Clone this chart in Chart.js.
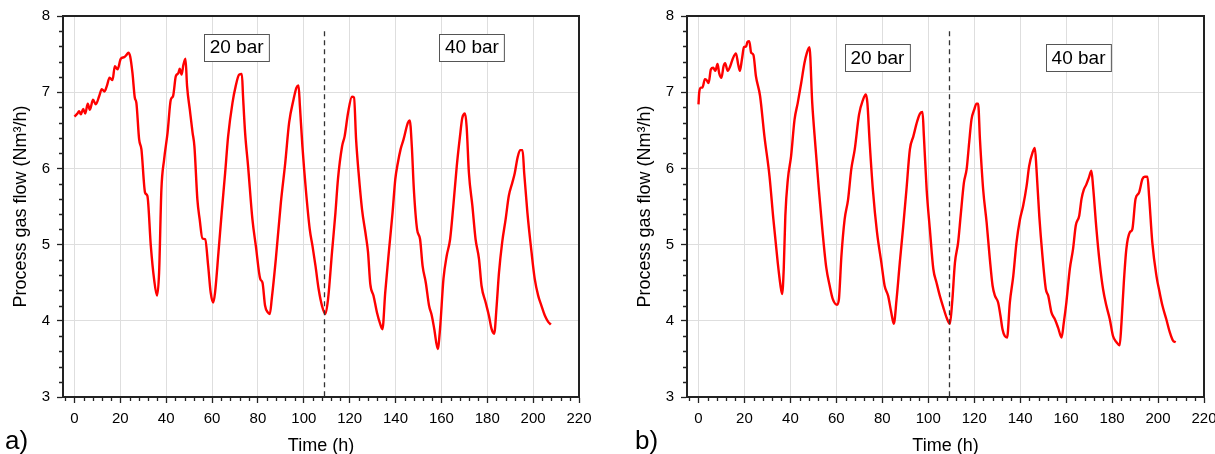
<!DOCTYPE html>
<html>
<head>
<meta charset="utf-8">
<script src="https://cdn.jsdelivr.net/npm/chart.js@4"></script>
<style>
  html, body { margin: 0; padding: 0; background: #fff; overflow: hidden; }
  #wrap { position: relative; width: 1215px; height: 454px; }
  #chart-a { position: absolute; left: 0; top: 0; }
  #chart-b { position: absolute; left: 610px; top: 0; }
</style>
</head>
<body>
<div id="wrap">
  <canvas id="chart-a" width="610" height="454"></canvas>
  <canvas id="chart-b" width="620" height="454"></canvas>
</div>
<script>
// panel a) time (h) and process gas flow (Nm3/h)
const timeA = [
  0, 1.3, 2.0, 2.8, 3.8, 4.7, 5.8, 6.7, 8.1, 9.3, 10.8, 11.9, 13.1, 14.1, 15.3, 16.6, 17.6, 18.8,
  20.2, 21.7, 22.7, 23.5, 24.3, 25.3, 26.3, 27.0, 28.2, 29.2, 30.8, 31.8, 33.3, 34.7, 36.0, 36.9,
  37.9, 39.1, 40.6, 42.0, 43.0, 44.2, 45.3, 45.9, 46.7, 47.5, 48.4, 49.1, 50.3, 51.5, 52.3, 53.6,
  54.6, 55.8, 57.0, 58.3, 59.4, 60.5, 61.3, 62.8, 64.2, 65.7, 67.0, 68.9, 70.3, 71.8, 73.0, 73.5,
  74.4, 75.7, 77.6, 79.1, 81.0, 82.0, 83.1, 84.3, 85.2, 86.0, 87.8, 90.0, 91.9, 93.6, 95.5, 96.8,
  97.7, 98.3, 99.4, 100.9, 102.6, 103.8, 105.1, 106.5, 108.0, 109.4, 110.6, 112.3, 113.8, 114.9,
  116.7, 117.8, 119.3, 121.0, 121.9, 122.8, 123.9, 125.4, 127.1, 128.0, 129.0, 130.4, 131.9, 133.3,
  134.3, 135.5, 137.2, 138.7, 139.9, 141.0, 142.2, 143.5, 145.4, 146.2, 147.1, 148.0, 149.4, 150.7,
  151.8, 153.2, 154.6, 155.8, 156.9, 158.4, 159.4, 160.9, 162.3, 163.8, 165.2, 166.7, 168.1, 169.1,
  170.3, 171.0, 172.0, 173.5, 174.9, 176.4, 177.5, 179.3, 180.7, 181.9, 183.0, 184.1, 185.1, 186.5,
  188.0, 189.4, 190.9, 192.0, 193.2, 194.3, 195.4, 196.1, 197.5, 199.3, 200.7, 202.2, 203.6, 205.1,
  206.5, 207.7
];
const flowA = [
  6.68, 6.72, 6.75, 6.71, 6.78, 6.72, 6.85, 6.77, 6.90, 6.84, 6.95, 7.04, 7.01, 7.08, 7.19, 7.16, 7.34, 7.30,
  7.44, 7.46, 7.49, 7.52, 7.47, 7.25, 6.93, 6.86, 6.38, 6.25, 5.68, 5.64, 4.98, 4.55, 4.33, 4.63,
  5.72, 6.12, 6.47, 6.90, 6.95, 7.21, 7.25, 7.31, 7.23, 7.36, 7.44, 7.08, 6.77, 6.47, 6.29, 5.59,
  5.33, 5.08, 5.07, 4.72, 4.37, 4.24, 4.37, 4.90, 5.42, 5.94, 6.42, 6.86, 7.08, 7.23, 7.24, 6.95,
  6.47, 6.03, 5.33, 4.98, 4.55, 4.50, 4.20, 4.11, 4.09, 4.28, 4.81, 5.55, 6.07, 6.60, 6.90, 7.06,
  7.09, 6.82, 6.29, 5.72, 5.20, 4.98, 4.72, 4.41, 4.19, 4.09, 4.29, 4.90, 5.42, 5.86,
  6.29, 6.42, 6.73, 6.94, 6.93, 6.38, 5.94, 5.46, 5.11, 4.90, 4.48, 4.33, 4.11, 3.96,
  3.89, 4.37, 4.94, 5.42, 5.86, 6.07, 6.25, 6.38, 6.60, 6.63, 6.29, 5.72, 5.20, 5.07,
  4.72, 4.50, 4.20, 4.07, 3.89, 3.63, 3.89, 4.55, 4.85, 5.07, 5.51, 6.03, 6.42, 6.66,
  6.72, 6.55, 5.94, 5.51, 5.07, 4.81, 4.46, 4.24, 4.07, 3.89, 3.83, 4.20, 4.63, 5.03,
  5.33, 5.64, 5.81, 5.94, 6.14, 6.24, 6.24, 5.94, 5.42, 4.90, 4.55, 4.33, 4.20, 4.07,
  3.99, 3.95
];

// panel b)
const timeB = [
  0, 0.3, 1.0, 1.7, 2.8, 3.5, 4.4, 5.4, 6.4, 7.3, 8.3, 9.0, 10.0, 10.9, 11.6, 12.7, 13.8, 14.8,
  16.3, 17.3, 18.0, 18.9, 19.8, 20.7, 21.3, 22.1, 22.9, 23.9, 25.0, 26.8, 28.7, 30.9, 32.6, 34.5,
  35.7, 36.4, 37.1, 37.8, 38.9, 40.3, 41.8, 43.2, 44.7, 46.1, 47.2, 48.3, 49.5, 50.9, 52.4, 53.9,
  55.6, 57.1, 58.5, 60.3, 61.1, 62.2, 63.6, 65.1, 66.5, 68.0, 69.9, 71.6, 72.8, 73.5, 74.5, 75.9,
  77.7, 79.6, 81.0, 82.5, 83.9, 85.0, 86.2, 87.6, 89.1, 90.5, 92.0, 93.5, 95.2, 96.4, 97.5, 98.1,
  99.3, 100.7, 102.2, 103.6, 105.1, 106.5, 108.0, 109.4, 110.4, 111.6, 113.0, 114.1, 115.5, 116.7,
  117.8, 118.8, 120.0, 121.0, 121.7, 122.5, 123.9, 125.4, 126.8, 128.0, 129.0, 130.4, 131.4, 132.3,
  133.3, 134.3, 135.5, 137.0, 138.4, 139.9, 141.3, 142.8, 143.9, 145.4, 146.4, 147.1, 148.3, 149.7,
  151.2, 152.2, 153.6, 155.1, 156.5, 158.0, 159.0, 160.1, 161.6, 163.0, 164.2, 165.7, 166.7, 167.7,
  168.8, 169.9, 171.0, 171.7, 173.2, 174.6, 176.1, 177.5, 179.0, 180.4, 181.9, 183.3, 184.1, 185.1,
  186.2, 187.7, 188.8, 190.2, 191.7, 193.2, 194.2, 195.4, 196.1, 197.5, 199.3, 200.7, 201.9, 203.6,
  205.1, 206.5, 207.7
];
const flowB = [
  6.84, 6.99, 7.06, 7.06, 7.17, 7.16, 7.12, 7.30, 7.32, 7.28, 7.37, 7.25, 7.19, 7.34, 7.38, 7.28, 7.34, 7.43,
  7.51, 7.36, 7.28, 7.43, 7.59, 7.60, 7.66, 7.67, 7.52, 7.49, 7.21, 6.95, 6.42, 5.90, 5.33, 4.76,
  4.46, 4.35, 4.68, 5.38, 5.86, 6.16, 6.64, 6.86, 7.12, 7.38, 7.52, 7.59, 6.86, 6.29, 5.72, 5.20,
  4.70, 4.46, 4.28, 4.21, 4.28, 4.85, 5.33, 5.59, 5.99, 6.25, 6.71, 6.90, 6.97, 6.86, 6.34, 5.72,
  5.16, 4.76, 4.46, 4.33, 4.11, 3.96, 4.28, 4.76, 5.24, 5.72, 6.25, 6.42, 6.62, 6.72, 6.74, 6.42,
  5.72, 5.20, 4.68, 4.50, 4.32, 4.18, 4.04, 3.96, 4.24, 4.76, 5.03, 5.38, 5.81, 5.99,
  6.34, 6.64, 6.77, 6.85, 6.85, 6.38, 5.72, 5.29, 4.81, 4.46, 4.33, 4.24, 4.07, 3.89,
  3.80, 3.78, 4.24, 4.59, 5.03, 5.33, 5.51, 5.77, 6.03, 6.21, 6.27, 5.99, 5.38, 4.85,
  4.41, 4.33, 4.11, 4.02, 3.91, 3.78, 3.98, 4.24, 4.68, 4.94, 5.25, 5.38, 5.60, 5.72,
  5.79, 5.88, 5.97, 5.77, 5.20, 4.76, 4.41, 4.20, 4.02, 3.80, 3.72, 3.68, 3.98, 4.50,
  4.94, 5.16, 5.20, 5.60, 5.68, 5.86, 5.89, 5.89, 5.64, 5.03, 4.59, 4.37, 4.20, 4.02,
  3.85, 3.74, 3.72
];

const xTicks = [0, 20, 40, 60, 80, 100, 120, 140, 160, 180, 200, 220];
const yTicks = [3, 4, 5, 6, 7, 8];
const switchTime = 109;     // dashed line, 20 bar -> 40 bar
const switchTop = 7.8;
const labelsA = [{ text: "20 bar", x: 70.7, y: 7.59 }, { text: "40 bar", x: 173.3, y: 7.59 }];
const labelsB = [{ text: "20 bar", x: 77.9, y: 7.45 }, { text: "40 bar", x: 165.4, y: 7.45 }];

const FONT = "'Liberation Sans', Arial, sans-serif";
const AXIS = "#222";

// minor ticks, box, dashed line, text boxes, panel letter
const panelDecor = {
  id: "panelDecor",
  afterDraw(chart, args, opts) {
    const ctx = chart.ctx;
    const a = chart.chartArea;
    const xs = chart.scales.x, ys = chart.scales.y;
    ctx.save();

    // minor ticks
    ctx.strokeStyle = AXIS;
    ctx.lineWidth = 1.3;
    ctx.beginPath();
    for (let v = -4; v < 220; v += 4) {
      if (v % 20 === 0) continue;
      const px = Math.round(xs.getPixelForValue(v)) + 0.5;
      ctx.moveTo(px, a.bottom);
      ctx.lineTo(px, a.bottom + 4);
    }
    for (let i = 1; i < 25; i++) {
      if (i % 5 === 0) continue;
      const py = Math.round(ys.getPixelForValue(3 + i * 0.2)) + 0.5;
      ctx.moveTo(a.left, py);
      ctx.lineTo(a.left - 4, py);
    }
    ctx.stroke();

    // top and right frame
    ctx.lineWidth = 2;
    ctx.beginPath();
    ctx.moveTo(a.left, a.top);
    ctx.lineTo(a.right, a.top);
    ctx.lineTo(a.right, a.bottom);
    ctx.stroke();

    // switch line
    const sx = Math.round(xs.getPixelForValue(switchTime)) + 0.5;
    ctx.strokeStyle = "#333";
    ctx.lineWidth = 1.3;
    ctx.setLineDash([5, 4]);
    ctx.beginPath();
    ctx.moveTo(sx, ys.getPixelForValue(switchTop));
    ctx.lineTo(sx, a.bottom);
    ctx.stroke();
    ctx.setLineDash([]);

    // text boxes
    ctx.font = "19px " + FONT;
    ctx.textAlign = "center";
    ctx.textBaseline = "middle";
    opts.boxes.forEach(b => {
      const cx = xs.getPixelForValue(b.x), cy = ys.getPixelForValue(b.y);
      const w = ctx.measureText(b.text).width + 11, h = 27;
      const x0 = Math.round(cx - w / 2) + 0.5, y0 = Math.round(cy - h / 2) + 0.5;
      ctx.fillStyle = "#fff";
      ctx.fillRect(x0, y0, w, h);
      ctx.strokeStyle = "#555";
      ctx.lineWidth = 1;
      ctx.strokeRect(x0, y0, w, h);
      ctx.fillStyle = "#000";
      ctx.fillText(b.text, cx, cy + 1);
    });

    // panel letter
    ctx.font = "26px " + FONT;
    ctx.textAlign = "left";
    ctx.textBaseline = "alphabetic";
    ctx.fillStyle = "#000";
    ctx.fillText(opts.letter, opts.letterX, 449);
    ctx.restore();
  }
};

function makePanel(canvasId, times, flows, letter, letterX, boxes, yAxisWidth, titlePad, rightPad) {
  const ctx = document.getElementById(canvasId).getContext("2d");
  return new Chart(ctx, {
    type: "scatter",
    data: {
      datasets: [{
        data: times.map((t, i) => ({ x: t, y: flows[i] })),
        showLine: true,
        borderColor: "#ff0000",
        borderWidth: 2.4,
        pointRadius: 0,
        cubicInterpolationMode: "monotone"
      }]
    },
    options: {
      responsive: false,
      animation: false,
      layout: { padding: { left: 0, right: rightPad, top: 16, bottom: 0 } },
      plugins: {
        legend: { display: false },
        tooltip: { enabled: false },
        panelDecor: { letter: letter, letterX: letterX, boxes: boxes }
      },
      scales: {
        x: {
          type: "linear",
          min: -5,
          max: 220,
          afterBuildTicks: s => { s.ticks = xTicks.map(v => ({ value: v })); },
          afterFit: s => { s.height = 57; },
          ticks: { color: "#000", padding: 7, maxRotation: 0, font: { family: FONT, size: 15 } },
          grid: { color: "#dedede", lineWidth: 1, tickColor: AXIS, tickLength: 6, tickWidth: 1.3 },
          border: { color: AXIS, width: 2 },
          title: {
            display: true,
            text: "Time (h)",
            color: "#000",
            padding: { top: 0, bottom: 0 },
            font: { family: FONT, size: 18, lineHeight: 0.9 }
          }
        },
        y: {
          min: 3,
          max: 8,
          afterBuildTicks: s => { s.ticks = yTicks.map(v => ({ value: v })); },
          afterFit: s => { s.width = yAxisWidth; },
          ticks: { color: "#000", padding: 7, font: { family: FONT, size: 15 } },
          grid: { color: "#dedede", lineWidth: 1, tickColor: AXIS, tickLength: 6, tickWidth: 1.3 },
          border: { color: AXIS, width: 2 },
          title: {
            display: true,
            text: "Process gas flow (Nm³/h)",
            color: "#000",
            padding: { top: titlePad, bottom: 0 },
            font: { family: FONT, size: 18, lineHeight: 1 }
          }
        }
      }
    },
    plugins: [panelDecor]
  });
}

makePanel("chart-a", timeA, flowA, "a)", 5, labelsA, 63, 12, 31);
makePanel("chart-b", timeB, flowB, "b)", 25, labelsB, 77, 26, 26);
</script>
</body>
</html>
